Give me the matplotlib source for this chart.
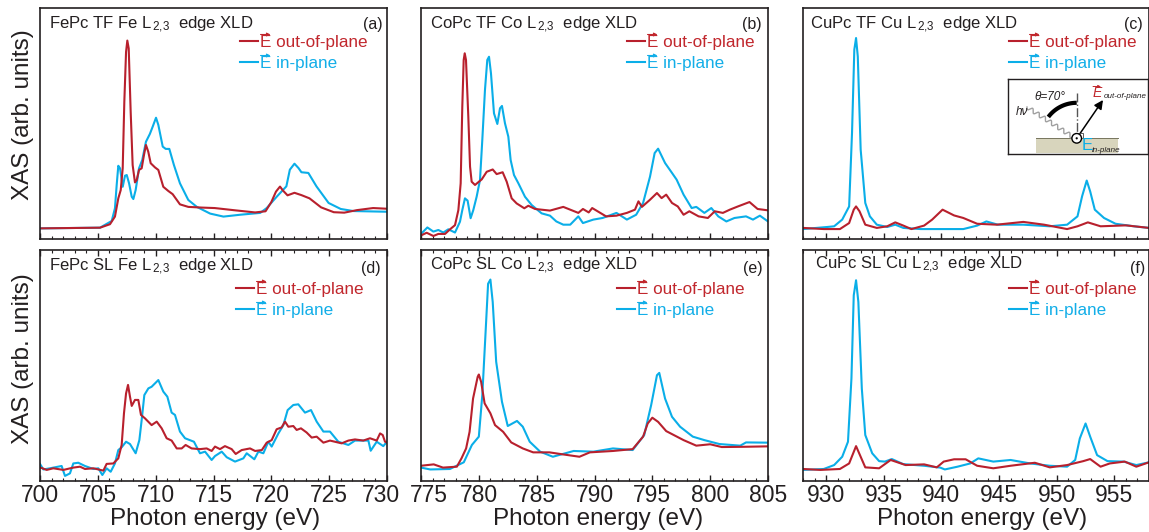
import numpy as np
import matplotlib
matplotlib.use('Agg')
import matplotlib.pyplot as plt
from matplotlib.patches import Rectangle, Circle, FancyArrowPatch
from matplotlib.transforms import ScaledTranslation

plt.rcParams['font.family'] = ['Liberation Sans', 'DejaVu Sans']
plt.rcParams['mathtext.fontset'] = 'custom'
plt.rcParams['mathtext.rm'] = 'Liberation Sans'
plt.rcParams['mathtext.it'] = 'Liberation Sans:italic'
plt.rcParams['mathtext.bf'] = 'Liberation Sans:bold'

W, H = 1149, 532
RED = '#b8202d'
BLUE = '#0aaee8'
DARK = '#231f20'

# ---- data (photon energy in eV, XAS intensity in % of axis height) ----
a_red_x = [700,705.19,706.05,706.48,706.77,706.98,707.15,707.29,707.44,707.55,707.67,707.84,708.01,708.21,708.36,708.56,708.79,708.99,709.16,709.36,709.57,709.94,710.23,710.66,711.09,711.47,712.1,712.82,714,715.1,716.9,718.6,719.5,720,720.4,720.75,721,721.4,722,722.6,723.3,724.3,725.4,726.3,727.4,728.8,730]
a_red_y = [4.6,4.9,6.4,9.7,17.6,21.2,30.6,59.4,81,85.9,82.5,55,32,24.5,25.5,29.9,30.6,36.4,40.7,37.8,32.8,31,29.9,22.6,20.8,19.4,15,13.9,13.6,13.4,12.4,11.5,12,16,20.5,22.7,21,18.9,20,19,17.6,13.7,11.6,11.4,12.5,13.4,13.1]
a_blue_x = [700,705.19,706.2,706.48,706.63,706.77,706.92,707.15,707.35,707.5,707.7,707.93,708.07,708.27,708.56,708.84,709.16,709.5,709.74,710.03,710.23,710.61,710.87,711.18,711.58,712.1,712.82,713.56,714.71,715.86,717.3,719.04,719.6,720.5,721.3,721.6,722,722.35,722.6,723.2,723.9,724.95,726,727.1,730]
a_blue_y = [4.6,4.9,7.8,13.3,23.4,31.7,30.6,22.6,27.4,27.7,24.1,18.3,17.3,21.2,30.6,34.2,42.1,45.5,48.6,52.5,49.4,40,39,39,32,24.1,16.9,13.9,11,9.7,10.5,11.3,13.4,18.5,22.8,30,32.6,30.7,28.9,28.6,22.8,15.6,13,12.1,11.8]

b_red_x = [775.06,775.49,776.07,776.5,777.08,777.51,777.94,778.23,778.43,778.57,778.69,778.78,778.89,779.09,779.24,779.38,779.67,780.25,780.68,781.2,781.54,782.06,782.41,782.84,783.27,783.93,784.28,784.86,786.15,787.3,787.9,788.6,789,789.5,789.8,790.5,791,791.9,792.8,793.5,793.8,794.1,794.8,795.4,795.8,796.2,796.7,797.2,797.7,798.2,799,799.8,800.4,801.1,801.7,802.4,803.4,804.1,805]
b_red_y = [1.7,2.7,1.3,2.2,2.2,4.2,6,12.5,24.1,57.3,77.5,80.4,77.5,53,31.3,24.8,23.4,25.8,29.1,30.1,28.1,28.9,24.8,17.6,15.4,13.3,14.4,13,12.3,13.9,12.7,11.3,13,11.5,13.4,11.3,9.8,10.1,11.3,12.7,16.3,13.9,17,19.9,17.7,19.2,15.6,14.1,10.5,12,9.8,9.1,12,11.3,12.7,14.1,16,13,12.4]
b_blue_x = [775.06,775.55,776.07,776.5,776.93,777.36,777.94,778.37,778.57,778.8,779.03,779.29,779.52,779.81,780.1,780.3,780.53,780.73,780.88,781.05,781.31,781.6,781.83,782,782.26,782.55,782.75,783.04,783.42,783.99,784.57,785.43,786.15,786.7,787.3,787.9,788.6,789,789.9,790.7,791.9,792.8,793.6,794.2,794.8,795.2,795.5,796.1,796.7,797.1,797.7,798.4,798.8,799.5,800.1,800.7,801.4,802.1,803.1,803.7,804.3,805]
b_blue_y = [2.5,5,3.2,3.9,2.8,4.2,2.8,7.5,12.5,17.6,16.6,9,12.5,18.3,25.5,42.9,64.5,77.5,78.9,71.7,54.4,49.8,56.6,57.6,50.1,44.3,34.2,27.7,24.1,18.3,14.7,11.1,10.1,7.6,6.2,6.2,9.8,6.9,8.4,9.1,11.3,8.4,10.5,15.6,27,37.2,39.1,32.9,28.6,25.7,19.2,13.4,13.9,11.3,13.4,9.8,7.6,9.1,9.8,8.4,10.1,7.6]

c_red_x = [928,929.8,931.2,932,932.4,932.6,932.9,933.4,934.4,935.3,936,936.7,937.4,938.5,939.2,940.1,941.1,941.9,943.1,944.8,947.1,948.9,950.9,951.8,952.7,953.8,956,958]
c_red_y = [4.8,4.3,4.3,6.9,12.7,14.1,12,6.2,4.8,5.5,7.2,5.8,4.3,5.8,8.4,12.7,10.2,9.1,6.6,6.2,7.4,6.2,4.3,5.5,7.2,5.5,5.9,4.8]
c_blue_x = [928,930.1,930.7,931.4,932,932.25,932.45,932.6,932.75,933,933.4,933.8,934.4,935.3,936,936.7,938.2,939.9,941.9,943.1,943.9,944.9,947.1,949.4,950.9,951.8,952.2,952.6,952.9,953.3,954.1,955.1,956.7,958]
c_blue_y = [4.3,5.2,5.5,8.4,14.1,45.9,82,87,79,38.7,15.6,9.8,6.2,5.2,6.2,4.8,4.3,4.3,4.3,5.8,7.6,6.2,6.2,5.5,6.2,9.8,18.5,25.3,20.6,12.7,9.1,6.6,5.5,4.8]

d_red_x = [700,700.58,701.15,702.02,702.88,703.46,703.89,704.61,705.48,705.76,706.34,706.77,707.06,707.26,707.44,707.61,707.78,707.93,708.21,708.5,708.73,709.08,709.65,710.09,710.52,710.95,711.38,711.82,712.25,712.59,713.11,713.83,714.41,714.84,715.13,715.56,715.99,716.57,716.92,717.44,718.16,718.6,719.18,719.6,720.03,720.46,720.89,721.18,721.47,721.9,722.19,722.56,723.05,723.49,723.92,724.5,725.07,726.08,726.66,727.23,727.95,728.53,729.11,729.4,729.63,729.83,730]
d_red_y = [5.9,4.8,5.5,4.8,5.8,6.2,5.2,5.5,4.5,7.4,7.6,9.8,15.6,29.3,37.9,41.6,36.5,32.5,35.1,35.1,28.6,27.1,24.2,25.7,22.8,18.5,17.5,14.1,14.1,15.6,14.1,13.8,14.1,13,14.9,13.8,15.1,13.8,11.7,13.4,14.1,13,13.4,16.6,17.7,22.4,23.2,25.7,23.5,23.8,22.1,22.8,21,18.8,19.2,16.6,17.5,16.3,17.5,18,17.5,18.5,17.5,20.6,19.9,17,16.6]
d_blue_x = [700,700.29,700.86,701.87,702.16,702.59,702.88,703.31,703.89,704.61,705.04,705.39,705.76,706.11,706.48,706.77,707.06,707.44,707.78,708.27,708.59,708.79,709.02,709.37,709.65,710.23,710.66,711.01,711.38,711.67,712.1,712.54,713.31,713.83,714.27,714.84,715.13,715.71,716.14,716.86,717.58,717.87,718.53,718.88,719.31,719.74,720.03,720.61,721.04,721.41,721.9,722.33,722.91,723.43,723.92,724.5,725.07,725.79,726.66,727.23,728.39,728.59,729.11,729.68,730]
d_blue_y = [7.4,5,5.5,6.5,2.2,3.3,7.6,7.9,6.5,5.2,5.5,2.6,5.5,4,7.6,13.4,14.6,17,16,12,17.7,26.4,37.2,40.1,40.8,43.7,38.7,36.5,29.6,28.6,21.4,18.5,17,12,12.7,9.1,10.8,12.7,10.3,8.4,9.8,12,9.4,12.7,12,17,14.9,20.6,24.2,30.7,32.9,33.2,29.6,30.7,25.7,21.4,21.4,17,15.6,17.5,17.5,13.1,17,15.1,17]

e_red_x = [775,776.1,776.9,778.1,778.5,778.9,779.2,779.5,779.9,780,780.2,780.5,781,781.4,782.1,782.8,783.8,784.7,786.1,787.3,788.7,789.6,791.6,793.3,794.2,794.6,795,795.5,796.2,797.7,798.8,800,801,802.8,805]
e_red_y = [6.6,7.2,5.8,6.2,9.8,14.1,21.3,35.7,45.1,46.1,42.9,33.6,29.3,24.2,21.3,16.7,14.1,12.4,12.4,11.5,10.5,12.4,13,13.8,19.2,24.9,27.4,25.6,21.6,17.7,15.3,15.9,14.7,14.8,15]
e_blue_x = [775,775.8,777.5,778.7,779.4,780,780.3,780.6,780.8,781,781.2,781.5,782,782.5,783.3,783.8,784.4,785.3,786.4,788.2,789.9,791.6,793.3,794.3,794.9,795.4,795.6,796.1,796.7,797.4,798.5,799.5,800.8,802.6,803.1,805]
e_blue_y = [5.8,5,5.2,8.1,15.6,19.2,37.2,66,85.4,87.2,77.5,51.6,34.3,23.8,26,23.5,17,12.7,10.5,13,12.7,14.1,13.4,19.9,32.9,45.8,46.8,35.7,27.8,23.5,19.2,17.7,16,15.3,16.7,16.6]

f_red_x = [928,929.5,931.2,932,932.6,933,933.4,934.6,935.6,936.9,938.5,939.6,940.2,941.1,942.1,943.1,944.5,946,948.1,949.4,950.9,952.3,952.9,953.8,954.6,955.9,956.9,958]
f_red_y = [5.2,4.8,5.2,7.6,15.1,10.5,5.9,5.5,9.1,6.9,7.2,5.9,8.4,9.4,9.4,6.6,5.5,6.6,7.9,5.9,6.9,8.6,9.5,6.2,7.6,8.4,6.2,8.1]
f_blue_x = [928,929.8,930.7,931.4,931.9,932.2,932.4,932.6,932.8,933.1,933.4,934,934.6,935.1,935.7,936.7,938.5,939.9,940.3,941.4,942.5,943.2,944.5,946,947.7,949.4,950.9,951.6,952,952.5,952.9,953.5,954.4,955.8,956.9,958]
f_blue_y = [4.8,5.2,6.9,10.5,17,44.4,80.4,86.9,77.5,40,19.9,12,8.6,8.4,9.5,7.3,6.6,5.8,5,6.2,7.6,9.8,8.4,9.1,7.6,6.6,6.2,9.1,18.4,24.9,19.2,11.2,8.6,8.4,6.9,8.1]

titles = ['FePc TF Fe L$_{\\,2{,}3}$  edge XLD', 'CoPc TF Co L$_{\\,2{,}3}$  edge XLD', 'CuPc TF Cu L$_{\\,2{,}3}$  edge XLD',
          'FePc SL Fe L$_{\\,2{,}3}$  edge XLD', 'CoPc SL Co L$_{\\,2{,}3}$  edge XLD', 'CuPc SL Cu L$_{\\,2{,}3}$  edge XLD']
letters = ['(a)', '(b)', '(c)', '(d)', '(e)', '(f)']
xlims = [(700, 730), (775, 805), (928, 958)]
major_ticks = [[700,705,710,715,720,725,730], [775,780,785,790,795,800,805], [930,935,940,945,950,955]]
label_red = 'E out-of-plane'
label_blue = 'E in-plane'
LEG_RED = '#c1272d'
LEG_BLUE = '#12aee8'

series = [(a_red_x,a_red_y,a_blue_x,a_blue_y),(b_red_x,b_red_y,b_blue_x,b_blue_y),(c_red_x,c_red_y,c_blue_x,c_blue_y),
          (d_red_x,d_red_y,d_blue_x,d_blue_y),(e_red_x,e_red_y,e_blue_x,e_blue_y),(f_red_x,f_red_y,f_blue_x,f_blue_y)]

# ---- layout (pixels) ----
cols = [(40, 387), (421, 768), (803, 1149)]
rows = [(8, 239), (250, 481)]
title_pos = [(49,25),(430,25),(810,25),(49,267),(430,266),(815,265)]
letter_pos = [(383,25),(762,25),(1143,25),(381,268),(763,268),(1145,268)]
legend_pos = [(240,35),(627,35),(1009,35),(236,282),(617,282),(1009,282)]
xlabel_shift = [2, 4, 6]
ylabel_center = [115, 359]
tick_shift = {730: -6, 775: 8}

fig = plt.figure(figsize=(W/100, H/100), dpi=100, facecolor='white')


def px_arrow(xa, xb, y, color):
    """Small vector accent over an E, positions given in figure pixels."""
    fig.add_artist(FancyArrowPatch((xa/W, 1-y/H), (xb/W, 1-y/H), transform=fig.transFigure,
                                   arrowstyle='-|>', mutation_scale=5, color=color, lw=0.8,
                                   shrinkA=0, shrinkB=0))


for i, (rx, ry, bx, by) in enumerate(series):
    col, row = i % 3, i // 3
    x0, x1 = cols[col]; y0, y1 = rows[row]
    ax = fig.add_axes([x0/W, 1-y1/H, (x1-x0)/W, (y1-y0)/H])
    l2, = ax.plot(bx, by, color=BLUE, lw=1.5, label=label_blue, solid_joinstyle='round')
    l1, = ax.plot(rx, ry, color=RED, lw=1.5, label=label_red, solid_joinstyle='round')
    ax.set_xlim(*xlims[col]); ax.set_ylim(0, 100)
    ax.set_yticks([])
    ax.set_xticks(major_ticks[col])
    lo = int(np.ceil(xlims[col][0])); hi = int(xlims[col][1])
    ax.set_xticks(list(range(lo, hi+1)), minor=True)
    ax.tick_params(axis='x', which='major', direction='in', length=4, width=1.0, color=DARK,
                   labelsize=16.5, labelcolor=DARK, pad=2.5, top=(row == 1), labelbottom=(row == 1))
    ax.tick_params(axis='x', which='minor', direction='in', length=2, width=0.8, color=DARK, top=(row == 1))
    if row == 1:
        for tick_value, lab in zip(major_ticks[col], ax.get_xticklabels()):
            if tick_value in tick_shift:
                lab.set_transform(lab.get_transform() +
                                  ScaledTranslation(tick_shift[tick_value]/100, 0, fig.dpi_scale_trans))
    for s in ax.spines.values():
        s.set_linewidth(1.2); s.set_color(DARK)
    if row == 1:
        ax.set_xlabel('Photon energy (eV)', fontsize=17.5, color=DARK)
        ax.xaxis.set_label_coords(0.5 + xlabel_shift[col]/(x1-x0), -0.118)
    if col == 0:
        fig.text(23/W, 1-ylabel_center[row]/H, 'XAS (arb. units)', rotation=90, fontsize=17.5,
                 color=DARK, ha='center', va='center')
    tx, ty = title_pos[i]
    fig.text(tx/W, 1-ty/H, titles[i], fontsize=12, color=DARK, ha='left', va='center')
    lx, ly = letter_pos[i]
    fig.text(lx/W, 1-ly/H, letters[i], fontsize=11.5, color=DARK, ha='right', va='center')
    px, py = legend_pos[i]
    leg = ax.legend(handles=[l1, l2], loc='upper left',
                    bbox_to_anchor=((px-x0)/(x1-x0), 1-(py-y0)/(y1-y0)),
                    frameon=False, fontsize=12.3, borderpad=0, borderaxespad=0,
                    handlelength=1.05, handletextpad=0.12, labelspacing=0.33)
    for t, c in zip(leg.get_texts(), [LEG_RED, LEG_BLUE]):
        t.set_color(c)
    ex = px + 20.5
    px_arrow(ex, ex + 10, py - 0.5, LEG_RED)
    px_arrow(ex, ex + 10, py + 20.5, LEG_BLUE)

# ---- inset schematic in panel (c), drawn in figure pixel coordinates ----
ix0, ix1, iy0, iy1 = 1008, 1148, 79, 154
ins = fig.add_axes([ix0/W, 1-iy1/H, (ix1-ix0)/W, (iy1-iy0)/H], facecolor='white')
ins.set_xlim(ix0, ix1); ins.set_ylim(iy1, iy0)
ins.set_xticks([]); ins.set_yticks([])
for s in ins.spines.values():
    s.set_linewidth(1.0); s.set_color(DARK)
ins.add_patch(Rectangle((1036, 138.3), 82, 15, facecolor='#d8d5bd', edgecolor='none'))
ins.plot([1036, 1118], [138.3, 138.3], color='#77765f', lw=0.7)
ins.plot([1076.7, 1076.7], [93, 134], color='#555555', lw=1.0, ls='-.')
t = np.linspace(0, 1, 200)
wx0, wy0, wx1, wy1 = 1027, 107, 1073, 137
nx, ny = -(wy1-wy0)/55, (wx1-wx0)/55
wave = 2.0*np.sin(2*np.pi*7.5*t)
ins.plot(wx0+(wx1-wx0)*t+nx*wave, wy0+(wy1-wy0)*t+ny*wave, color='#a0a0a0', lw=1.0)
ang = np.radians(np.linspace(90, 143, 40))
ins.plot(1076.7+35.5*np.cos(ang), 138.3-35.5*np.sin(ang), color='black', lw=3.0, solid_capstyle='butt')
ins.add_patch(FancyArrowPatch((1079, 135), (1103, 100), arrowstyle='-|>', mutation_scale=13,
                              color='black', lw=1.1, shrinkA=0, shrinkB=0))
ins.add_patch(Rectangle((1078, 133), 4.5, 5, fill=False, edgecolor='#444444', lw=0.6))
ins.add_patch(Circle((1076.7, 138.3), 4.8, facecolor='white', edgecolor='black', lw=1.0, zorder=5))
ins.add_patch(Circle((1076.7, 138.3), 1.1, facecolor='black', edgecolor='none', zorder=6))
ins.text(1034, 97, 'θ=70°', fontsize=8.5, style='italic', color=DARK, va='center', ha='left')
ins.text(1016, 112, 'hν', fontsize=8.5, style='italic', color=DARK, va='center', ha='left')
ins.text(1093, 93, 'E', fontsize=10, style='italic', color=LEG_RED, va='center', ha='left')
ins.add_patch(FancyArrowPatch((1093, 86.5), (1101, 86.5), arrowstyle='-|>', mutation_scale=4,
                              color=LEG_RED, lw=0.7, shrinkA=0, shrinkB=0))
ins.text(1103.5, 96, 'out-of-plane', fontsize=5.8, style='italic', color=DARK, va='center', ha='left')
ins.text(1081.5, 146, 'E', fontsize=12, color=BLUE, va='center', ha='left', zorder=7)
ins.text(1092, 151, 'in-plane', fontsize=5.8, style='italic', color=DARK, va='center', ha='left')

fig.savefig('out.png', dpi=100, facecolor='white')
